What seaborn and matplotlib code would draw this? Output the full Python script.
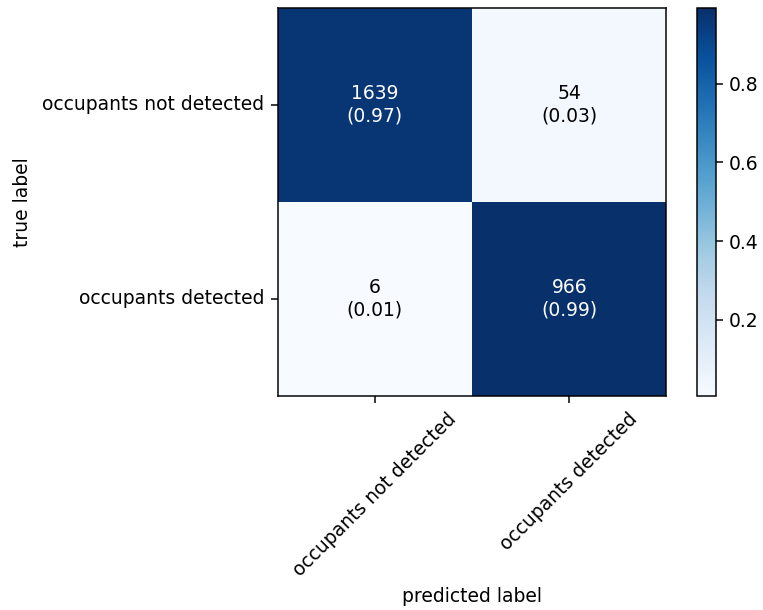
import numpy as np
import matplotlib
matplotlib.use("Agg")
import matplotlib.pyplot as plt
import seaborn as sns

# Confusion matrix counts (rows: true class, columns: predicted class)
class_names = ["occupants not detected", "occupants detected"]
counts_not_detected = [1639, 54]
counts_detected = [6, 966]

conf_mat = np.array([counts_not_detected, counts_detected])
normed = conf_mat / conf_mat.sum(axis=1, keepdims=True)

cell_text = np.array([
    [f"{conf_mat[i, j]}\n({normed[i, j]:.2f})" for j in range(conf_mat.shape[1])]
    for i in range(conf_mat.shape[0])
])

dpi = 135
fig = plt.figure(figsize=(763 / dpi, 610 / dpi), dpi=dpi)
ax = fig.add_axes([0.3640, 0.3508, 0.5095, 0.6369])
cax = fig.add_axes([0.9139, 0.3508, 0.0245, 0.6369])

sns.heatmap(
    normed,
    annot=cell_text,
    fmt="",
    cmap="Blues",
    cbar=True,
    cbar_ax=cax,
    square=False,
    linewidths=0,
    ax=ax,
    annot_kws={"fontsize": 10},
)

# white text on dark cells, black on light ones
threshold = normed.max() / 2.0
for txt, val in zip(ax.texts, normed.ravel()):
    txt.set_color("white" if val > threshold else "black")

# restore the frame around the matrix and the colorbar
for spine in ax.spines.values():
    spine.set_visible(True)
    spine.set_linewidth(0.8)
    spine.set_color("black")
cbar = ax.collections[0].colorbar
cbar.outline.set_linewidth(0.8)
cbar.outline.set_edgecolor("black")
cbar.ax.tick_params(length=3.5, width=0.8, labelsize=10)

ax.set_xticks(np.arange(len(class_names)) + 0.5)
ax.set_yticks(np.arange(len(class_names)) + 0.5)
ax.set_xticklabels(class_names, rotation=45, ha="center")
ax.set_yticklabels(class_names, rotation=0, va="center")
ax.tick_params(axis="both", length=3.5, width=0.8, labelsize=10,
               left=True, bottom=True)

ax.set_xlabel("predicted label", fontsize=10)
ax.set_ylabel("true label", fontsize=10, labelpad=5.5)

fig.savefig("out.png", dpi=dpi)
